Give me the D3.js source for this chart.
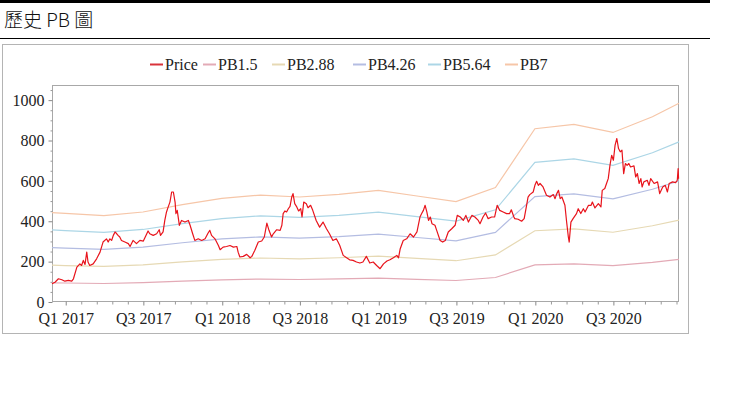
<!DOCTYPE html>
<html><head><meta charset="utf-8">
<script src="https://cdn.jsdelivr.net/npm/d3@7"></script>
<style>
html,body{margin:0;padding:0;background:#fff;}
svg{display:block;}
</style></head>
<body>
<svg id="c" width="729" height="397"></svg>
<script>
// ---------- DATA ----------
const seriesNames = ["Price", "PB1.5", "PB2.88", "PB4.26", "PB5.64", "PB7"];
const seriesColors = ["#e8141c", "#e3aab6", "#e6d9b4", "#b4bde2", "#acd6e6", "#f6c6a8"];

const bandDates = ["2016-11-30","2016-12-31","2017-03-31","2017-06-30","2017-09-30","2017-12-31","2018-03-31","2018-06-30","2018-09-30","2018-12-31","2019-03-31","2019-06-30","2019-09-30","2019-12-31","2020-03-31","2020-06-30","2020-09-30","2020-12-01"];
const pb15  = [95.0, 94.1, 91.7, 95.6, 103.4, 110.0, 113.6, 111.5, 114.2, 118.5, 112.5, 106.5, 121.5, 183.9, 188.6, 180.0, 196.7, 211.1];
const pb288 = [182.3, 180.6, 176.0, 183.5, 198.4, 211.1, 218.0, 214.0, 219.2, 227.5, 216.0, 204.5, 233.3, 353.1, 362.0, 345.6, 377.6, 405.2];
const pb426 = [269.7, 267.1, 260.3, 271.4, 293.5, 312.3, 322.5, 316.5, 324.2, 336.5, 319.5, 302.5, 345.1, 522.3, 535.5, 511.2, 558.5, 599.4];
const pb564 = [357.0, 353.6, 344.6, 359.3, 388.6, 413.4, 427.0, 419.1, 429.2, 445.6, 423.0, 400.4, 456.8, 691.5, 708.9, 676.8, 739.4, 793.5];
const pb7   = [443.1, 438.9, 427.7, 445.9, 482.3, 513.1, 529.9, 520.1, 532.7, 553.0, 525.0, 497.0, 567.0, 858.2, 879.9, 840.0, 917.7, 984.9];

const priceDates = ["2016-11-30","2016-12-07","2016-12-15","2016-12-23","2016-12-30","2017-01-07","2017-01-15","2017-01-19","2017-01-27","2017-02-03","2017-02-07","2017-02-11","2017-02-15","2017-02-19","2017-02-22","2017-02-26","2017-03-06","2017-03-14","2017-03-22","2017-03-29","2017-04-06","2017-04-10","2017-04-14","2017-04-18","2017-04-22","2017-04-26","2017-04-30","2017-05-03","2017-05-07","2017-05-11","2017-05-19","2017-05-27","2017-05-31","2017-06-07","2017-06-15","2017-06-23","2017-07-01","2017-07-09","2017-07-12","2017-07-16","2017-07-24","2017-08-01","2017-08-07","2017-08-10","2017-08-16","2017-08-20","2017-08-24","2017-08-28","2017-09-01","2017-09-05","2017-09-09","2017-09-13","2017-09-15","2017-09-18","2017-09-23","2017-09-28","2017-10-06","2017-10-14","2017-10-18","2017-10-24","2017-10-29","2017-11-06","2017-11-14","2017-11-22","2017-11-29","2017-12-03","2017-12-07","2017-12-15","2017-12-23","2017-12-27","2018-01-03","2018-01-11","2018-01-19","2018-01-27","2018-02-04","2018-02-07","2018-02-11","2018-02-19","2018-02-27","2018-03-07","2018-03-11","2018-03-18","2018-03-26","2018-04-03","2018-04-09","2018-04-15","2018-04-20","2018-04-26","2018-04-30","2018-05-08","2018-05-16","2018-05-20","2018-05-23","2018-05-27","2018-05-31","2018-06-04","2018-06-08","2018-06-12","2018-06-15","2018-06-19","2018-06-23","2018-06-28","2018-07-03","2018-07-06","2018-07-10","2018-07-16","2018-07-20","2018-07-26","2018-07-31","2018-08-08","2018-08-16","2018-08-24","2018-09-01","2018-09-08","2018-09-16","2018-09-24","2018-09-28","2018-10-02","2018-10-10","2018-10-18","2018-10-25","2018-11-02","2018-11-10","2018-11-18","2018-11-25","2018-12-03","2018-12-11","2018-12-19","2018-12-27","2019-01-04","2019-01-12","2019-01-20","2019-01-27","2019-02-04","2019-02-12","2019-02-16","2019-02-20","2019-02-27","2019-03-07","2019-03-15","2019-03-23","2019-03-31","2019-04-07","2019-04-11","2019-04-15","2019-04-19","2019-04-23","2019-04-27","2019-05-01","2019-05-05","2019-05-12","2019-05-16","2019-05-24","2019-05-30","2019-06-05","2019-06-12","2019-06-20","2019-06-28","2019-07-03","2019-07-10","2019-07-17","2019-07-23","2019-07-29","2019-08-06","2019-08-13","2019-08-21","2019-08-25","2019-09-01","2019-09-07","2019-09-13","2019-09-21","2019-09-28","2019-10-04","2019-10-10","2019-10-18","2019-10-26","2019-11-02","2019-11-06","2019-11-12","2019-11-14","2019-11-22","2019-11-30","2019-12-06","2019-12-11","2019-12-15","2019-12-19","2019-12-27","2019-12-31","2020-01-04","2020-01-08","2020-01-12","2020-01-19","2020-01-27","2020-02-04","2020-02-12","2020-02-16","2020-02-20","2020-02-24","2020-02-28","2020-03-03","2020-03-10","2020-03-14","2020-03-18","2020-03-20","2020-03-24","2020-03-29","2020-04-06","2020-04-10","2020-04-16","2020-04-22","2020-04-26","2020-05-04","2020-05-10","2020-05-13","2020-05-19","2020-05-27","2020-06-02","2020-06-05","2020-06-11","2020-06-15","2020-06-19","2020-06-23","2020-06-27","2020-07-01","2020-07-05","2020-07-09","2020-07-13","2020-07-17","2020-07-21","2020-07-25","2020-07-29","2020-08-02","2020-08-06","2020-08-10","2020-08-18","2020-08-22","2020-08-26","2020-08-30","2020-09-03","2020-09-06","2020-09-10","2020-09-18","2020-09-22","2020-09-26","2020-10-04","2020-10-12","2020-10-17","2020-10-24","2020-10-30","2020-11-04","2020-11-08","2020-11-16","2020-11-23","2020-11-27","2020-11-29","2020-11-30"];
const priceValues = [90,98,115,110,103,107,103,115,173,189,181,206,186,247,198,181,189,214,247,297,313,297,313,305,330,347,338,330,322,305,297,289,275,305,289,305,302,338,352,338,330,338,358,330,347,404,446,471,495,545,545,495,438,454,380,404,396,404,380,338,305,313,305,313,342,355,330,313,280,259,272,275,280,272,275,247,223,226,236,219,226,256,297,302,322,391,355,322,338,358,355,380,438,451,446,462,474,520,537,487,474,451,462,421,495,487,467,479,454,404,371,396,363,338,305,313,297,280,231,219,209,206,198,193,198,226,193,198,181,165,189,203,209,219,231,219,264,305,313,338,322,347,421,438,454,479,446,404,421,388,380,355,305,297,305,347,363,380,429,421,404,429,396,429,421,404,388,421,441,413,421,421,479,454,446,438,438,457,421,413,410,400,413,471,520,532,545,578,598,578,587,570,529,520,532,512,537,553,512,520,479,396,322,297,396,413,438,462,438,462,446,479,479,495,466,487,471,553,562,587,611,677,727,702,777,810,760,744,752,636,686,677,686,669,674,620,636,587,611,570,595,603,578,611,587,595,537,570,578,545,587,595,591,603,661,611];

const xStart = "2016-11-30", xEnd = "2020-12-01";
const yMax = 1075;
const yTicks = [0, 200, 400, 600, 800, 1000];
const xTickDates = ["2017-01-01","2017-07-01","2018-01-01","2018-07-01","2019-01-01","2019-07-01","2020-01-01","2020-07-01"];
const xTickLabels = ["Q1 2017","Q3 2017","Q1 2018","Q3 2018","Q1 2019","Q3 2019","Q1 2020","Q3 2020"];

// ---------- DRAW ----------
const parse = d3.utcParse("%Y-%m-%d");
const svg = d3.select("#c");
const serif = "'Liberation Serif','Times New Roman',serif";

// header
svg.append("rect").attr("x",0).attr("y",0).attr("width",710).attr("height",3).attr("fill","#000");
svg.append("text").attr("x",4).attr("y",27).attr("font-family","'Noto Sans CJK TC','Noto Sans',sans-serif")
  .attr("font-size",19).attr("font-weight",300).attr("fill","#111").text("歷史 PB 圖");
svg.append("line").attr("x1",0).attr("x2",710).attr("y1",38.5).attr("y2",38.5).attr("stroke","#000").attr("stroke-width",1);

// chart outer box
svg.append("rect").attr("x",2.5).attr("y",44.5).attr("width",686).attr("height",289).attr("fill","#fff").attr("stroke","#b4b4b4");

const L = 52, R = 679, T = 85, B = 302;
const x = d3.scaleUtc().domain([parse(xStart), parse(xEnd)]).range([L, R]);
const y = d3.scaleLinear().domain([0, yMax]).range([B, T]);

// plot frame
svg.append("rect").attr("x",L+0.5).attr("y",T+0.5).attr("width",R-L-1).attr("height",B-T-1)
  .attr("fill","none").attr("stroke","#a8a8a8");

// y axis
const yAxis = d3.axisLeft(y).tickValues(yTicks).tickSize(4).tickPadding(4).tickFormat(d3.format("d"));
const gy = svg.append("g").attr("transform",`translate(${L+0.5},0)`).call(yAxis);
gy.select(".domain").remove();
gy.selectAll("line").attr("stroke","#888");
gy.selectAll("text").attr("font-family",serif).attr("font-size",16).attr("fill","#222").attr("dy","0.32em");
const yMinor = d3.range(50, yMax, 50).filter(v => v % 200 !== 0);
const gym = svg.append("g").attr("transform",`translate(${L+0.5},0)`).call(d3.axisLeft(y).tickValues(yMinor).tickSize(2).tickFormat(""));
gym.select(".domain").remove();
gym.selectAll("line").attr("stroke","#999");

// x axis
const majorDates = xTickDates.map(parse);
const xAxis = d3.axisBottom(x).tickValues(majorDates).tickSize(4).tickPadding(7)
  .tickFormat((d,i) => xTickLabels[i]);
const gx = svg.append("g").attr("transform",`translate(0,${B-0.5})`).call(xAxis);
gx.select(".domain").remove();
gx.selectAll("line").attr("stroke","#888");
gx.selectAll("text").attr("font-family",serif).attr("font-size",16).attr("fill","#222");
// minor x ticks: 5 subdivisions per half-year
const minor = [];
const ext = [d3.utcMonth.offset(majorDates[0], -6), ...majorDates, d3.utcMonth.offset(majorDates[majorDates.length-1], 6)];
for (let i = 0; i < ext.length - 1; i++) {
  const a = +ext[i], b = +ext[i+1];
  for (let k = 1; k < 5; k++) {
    const t = new Date(a + (b - a) * k / 5);
    if (t >= x.domain()[0] && t <= x.domain()[1]) minor.push(t);
  }
}
const gxm = svg.append("g").attr("transform",`translate(0,${B-0.5})`).call(d3.axisBottom(x).tickValues(minor).tickSize(3).tickFormat(""));
gxm.select(".domain").remove();
gxm.selectAll("line").attr("stroke","#999");

// band lines
const bands = [pb15, pb288, pb426, pb564, pb7];
const bd = bandDates.map(parse);
const line = d3.line().x(d => x(d[0])).y(d => y(d[1]));
bands.forEach((vals, i) => {
  svg.append("path").datum(bd.map((d, j) => [d, vals[j]]))
    .attr("fill","none").attr("stroke", seriesColors[i+1]).attr("stroke-width",1.2).attr("d", line);
});

// price line
svg.append("path").datum(priceDates.map((d, i) => [parse(d), priceValues[i]]))
  .attr("fill","none").attr("stroke", seriesColors[0]).attr("stroke-width",1.2)
  .attr("stroke-linejoin","round").attr("d", line);

// legend
const legend = svg.append("g").attr("font-family",serif).attr("font-size",16).attr("fill","#222");
const legendX = [150, 203, 272, 353, 428, 505];
seriesNames.forEach((n, i) => {
  const g = legend.append("g").attr("transform",`translate(${legendX[i]},64.5)`);
  g.append("line").attr("x1",0).attr("x2",13).attr("y1",0).attr("y2",0)
    .attr("stroke", i === 0 ? "#d9333a" : seriesColors[i]).attr("stroke-width",2);
  g.append("text").attr("x",15).attr("y",0).attr("dy","0.35em").text(n);
});
</script>
</body></html>
